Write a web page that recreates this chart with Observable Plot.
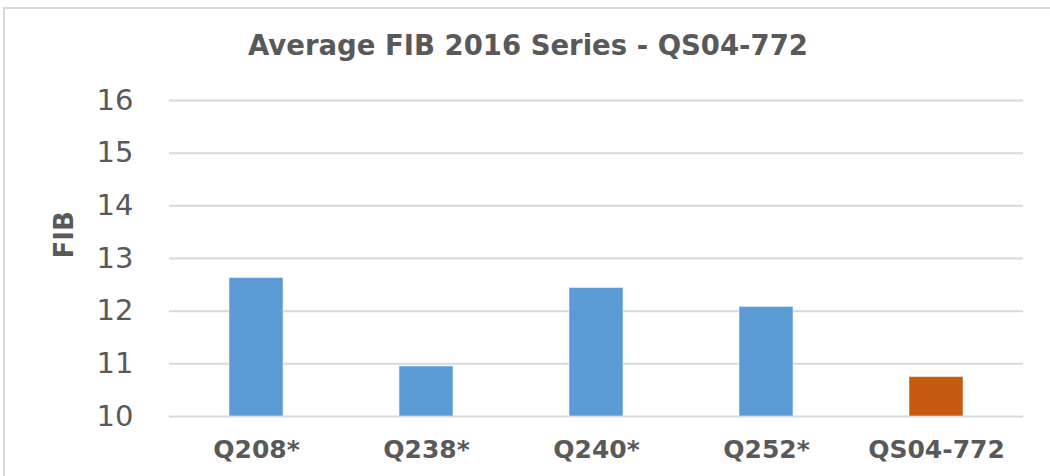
<!DOCTYPE html>
<html>
<head>
<meta charset="utf-8">
<script src="https://cdn.jsdelivr.net/npm/d3@7"></script>
<script src="https://cdn.jsdelivr.net/npm/@observablehq/plot@0.6"></script>
<style>
  html, body { margin: 0; padding: 0; background: #fff; }
  #wrap { position: relative; width: 1050px; height: 476px; overflow: hidden; background: #fff; font-family: "DejaVu Sans", sans-serif; }
  #frame { position: absolute; left: 3px; top: 7px; width: 1100px; height: 500px; border-left: 2px solid #d9d9d9; border-top: 2px solid #d9d9d9; box-sizing: border-box; }
  #title { position: absolute; left: 0; top: 30px; width: 1056px; text-align: center; font-size: 27.5px; line-height: 30px; font-weight: 700; color: #595959; }
  #chart { position: absolute; left: 0; top: 70px; }
</style>
</head>
<body>
<div id="wrap">
  <div id="frame"></div>
  <div id="title">Average FIB 2016 Series - QS04-772</div>
  <div id="chart"></div>
</div>
<script>
const categories = ["Q208*", "Q238*", "Q240*", "Q252*", "QS04-772"];
const values = [12.63, 10.95, 12.44, 12.08, 10.75];
const barColors = ["#5b9bd5", "#5b9bd5", "#5b9bd5", "#5b9bd5", "#c55a11"];
const yTicks = [10, 11, 12, 13, 14, 15, 16];
const yLabel = "FIB";

const data = categories.map((c, i) => ({cat: c, value: values[i], color: barColors[i]}));

const chart = Plot.plot({
  width: 1050,
  height: 406,
  marginTop: 30,
  marginBottom: 60,
  marginLeft: 169,
  marginRight: 27,
  style: {background: "transparent", fontFamily: "'DejaVu Sans', sans-serif"},
  x: {domain: categories, paddingInner: 0.684, paddingOuter: 0.342, label: null},
  y: {domain: [10, 16], label: null},
  color: {type: "identity"},
  marks: [
    Plot.gridY(yTicks, {stroke: "#d9d9d9", strokeOpacity: 1, strokeWidth: 2}),
    Plot.barY(data, {x: "cat", y1: 10, y2: "value", fill: "color", stroke: "#ffffff", strokeOpacity: 0.5, strokeWidth: 1}),
    Plot.axisY(yTicks, {tickSize: 0, tickPadding: 36, fontSize: 29, fill: "#595959", tickFormat: "d", label: null}),
    Plot.axisX({tickSize: 0, tickPadding: 24, fontSize: 25, fontWeight: 700, fill: "#595959", label: null}),
    Plot.text([yLabel], {text: d => d, frameAnchor: "left", dx: -105, rotate: -90, fontSize: 26, fontWeight: 700, fill: "#595959"})
  ]
});
document.getElementById("chart").appendChild(chart);
</script>
</body>
</html>
